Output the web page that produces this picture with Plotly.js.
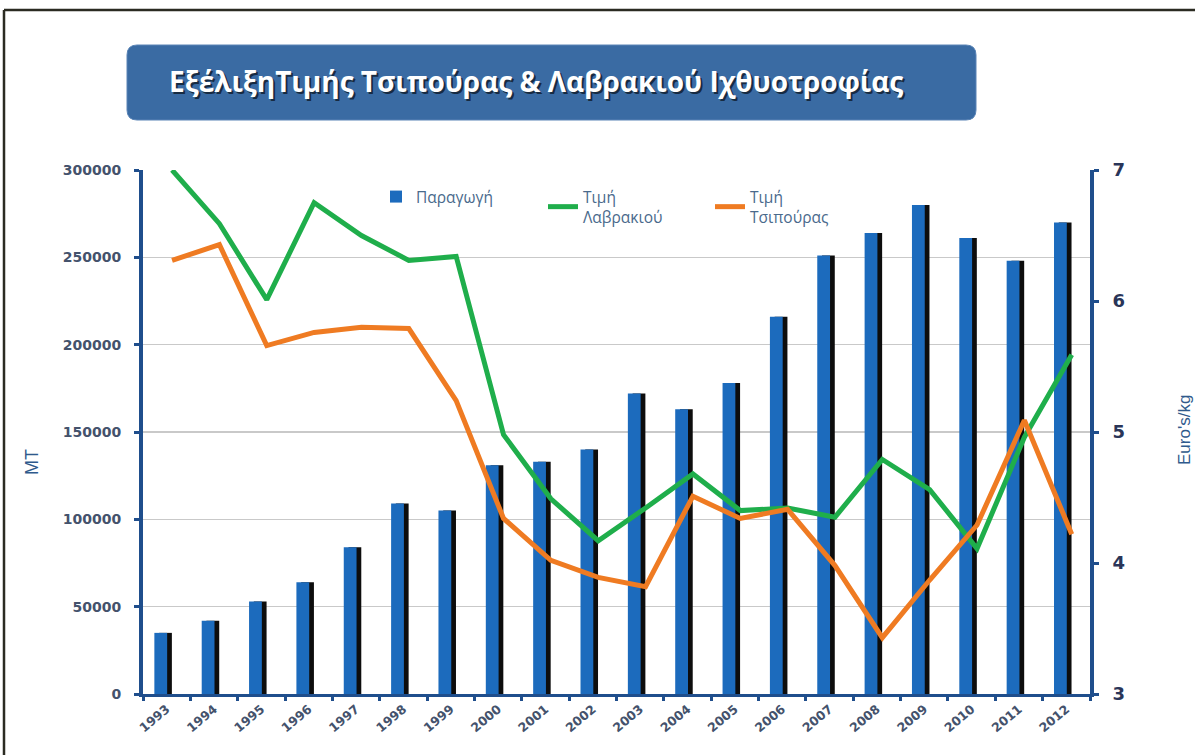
<!DOCTYPE html>
<html>
<head>
<meta charset="utf-8">
<script src="https://cdn.plot.ly/plotly-3.0.1.min.js"></script>
<style>
  html, body { margin: 0; padding: 0; background: #fff; }
  #chart { width: 1195px; height: 755px; }
</style>
</head>
<body>
<div id="chart"></div>
<script>
const years = ["1993", "1994", "1995", "1996", "1997", "1998", "1999", "2000", "2001", "2002",
  "2003", "2004", "2005", "2006", "2007", "2008", "2009", "2010", "2011", "2012"];

// Παραγωγή (MT)
const production = [35000, 42000, 53000, 64000, 84000, 109000, 105000, 131000, 133000, 140000,
  172000, 163000, 178000, 216000, 251000, 264000, 280000, 261000, 248000, 270000];

// Τιμή Λαβρακιού (Euro's/kg)
const priceSeaBass = [7.0, 6.59, 6.01, 6.75, 6.5, 6.31, 6.34, 4.98, 4.49, 4.17,
  4.42, 4.68, 4.4, 4.42, 4.35, 4.79, 4.56, 4.11, 4.96, 5.59];

// Τιμή Τσιπούρας (Euro's/kg)
const priceSeaBream = [6.31, 6.43, 5.66, 5.76, 5.8, 5.79, 5.24, 4.34, 4.02, 3.89,
  3.82, 4.51, 4.34, 4.41, 3.98, 3.43, 3.87, 4.29, 5.09, 4.22];

const W = 1195, H = 755;
const M = { l: 143, r: 105, t: 170, b: 61 };
const PW = W - M.l - M.r, PH = H - M.t - M.b;
// pixel -> paper helpers (layout only)
const px = (x) => (x - M.l) / PW;
const py = (y) => (H - M.b - y) / PH;

const axisBlue = "#1f4e8c";
const labelCol = "#44526c";

function roundRect(x0, y0, x1, y1, r) {
  const rx = r / PW, ry = r / PH;
  const a = px(x0), b = px(x1), top = py(y0), bot = py(y1);
  return `M ${a + rx},${top} L ${b - rx},${top} Q ${b},${top} ${b},${top - ry} ` +
    `L ${b},${bot + ry} Q ${b},${bot} ${b - rx},${bot} L ${a + rx},${bot} ` +
    `Q ${a},${bot} ${a},${bot + ry} L ${a},${top - ry} Q ${a},${top} ${a + rx},${top} Z`;
}

const traces = [
  {
    type: "bar", x: years, y: production, showlegend: false, hoverinfo: "skip",
    offset: -0.16, width: 0.27, marker: { color: "#0d0d0d" },
  },
  {
    type: "bar", x: years, y: production, name: "Παραγωγή",
    offset: -0.26, width: 0.27, marker: { color: "#1c6bbd" },
  },
  {
    type: "scatter", mode: "lines", x: years, y: priceSeaBass, name: "Τιμή<br>Λαβρακιού",
    xaxis: "x2", yaxis: "y2", line: { color: "#1fae4b", width: 5 },
  },
  {
    type: "scatter", mode: "lines", x: years, y: priceSeaBream, name: "Τιμή<br>Τσιπούρας",
    xaxis: "x2", yaxis: "y2", line: { color: "#ef7b22", width: 5 },
  },
];

const titleText = "ΕξέλιξηΤιμής Τσιπούρας & Λαβρακιού Ιχθυοτροφίας";
const titleFont = { family: "Open Sans", size: 28, weight: "bold" };

const layout = {
  width: W, height: H,
  margin: M,
  paper_bgcolor: "#fff", plot_bgcolor: "#fff",
  barmode: "overlay",
  showlegend: true,
  legend: {
    orientation: "h", x: px(376), y: py(180), xanchor: "left", yanchor: "top",
    font: { family: "Open Sans", size: 15.5, color: "#4a6a8c" },
    bgcolor: "rgba(0,0,0,0)", entrywidth: 122, entrywidthmode: "pixels",
  },
  xaxis: {
    type: "category", range: [-0.5, 19.5], tickson: "boundaries",
    ticks: "outside", ticklen: 4, tickwidth: 3, tickcolor: axisBlue,
    showline: true, linecolor: axisBlue, linewidth: 3,
    showgrid: false, tickangle: -40,
    tickfont: { family: "DejaVu Sans", size: 12.5, color: labelCol, weight: "bold" },
  },
  xaxis2: {
    type: "category", overlaying: "x", visible: false, range: [-0.614, 19.386],
  },
  yaxis: {
    range: [0, 300000], dtick: 50000, tickformat: "d",
    showline: true, linecolor: axisBlue, linewidth: 4,
    ticks: "outside", ticklen: 5, tickwidth: 3, tickcolor: axisBlue,
    showgrid: true, gridcolor: "#c9c9c9", gridwidth: 1.5, zeroline: false,
    ticklabelstandoff: 10,
    tickfont: { family: "DejaVu Sans", size: 14, color: labelCol, weight: "bold" },
  },
  yaxis2: {
    overlaying: "y", side: "right", range: [3, 7], dtick: 1,
    showline: true, linecolor: axisBlue, linewidth: 4,
    ticks: "outside", ticklen: 5, tickwidth: 3, tickcolor: axisBlue,
    showgrid: false, zeroline: false, ticklabelstandoff: 10,
    tickfont: { family: "DejaVu Sans", size: 18, color: "#2a3558", weight: "bold" },
  },
  shapes: [
    { type: "line", xref: "paper", yref: "paper", x0: px(4), x1: px(1200), y0: py(10), y1: py(10),
      line: { color: "#2b2b22", width: 2.5 } },
    { type: "line", xref: "paper", yref: "paper", x0: px(4), x1: px(4), y0: py(10), y1: py(760),
      line: { color: "#2b2b22", width: 2.5 } },
    { type: "path", xref: "paper", yref: "paper", path: roundRect(127, 45, 976, 120, 10),
      fillcolor: "#3a6ba3", line: { color: "#5a84b6", width: 1 } },
  ],
  annotations: [
    { xref: "paper", yref: "paper", x: px(536), y: py(81), xanchor: "center", yanchor: "middle",
      xshift: 2, yshift: -2, showarrow: false,
      text: titleText, font: { ...titleFont, color: "rgba(0,0,0,0.6)" } },
    { xref: "paper", yref: "paper", x: px(536), y: py(81), xanchor: "center", yanchor: "middle",
      showarrow: false, text: titleText, font: { ...titleFont, color: "#ffffff" } },
    { xref: "paper", yref: "paper", x: px(32), y: py(462), xanchor: "center", yanchor: "middle",
      showarrow: false, textangle: -90,
      text: "MT", font: { family: "Liberation Sans", size: 18, color: "#2f5a8c" } },
    { xref: "paper", yref: "paper", x: px(1184), y: py(430), xanchor: "center", yanchor: "middle",
      showarrow: false, textangle: -90,
      text: "Euro's/kg", font: { family: "Liberation Sans", size: 17, color: "#2f5a8c" } },
  ],
};

Plotly.newPlot("chart", traces, layout, { displayModeBar: false, staticPlot: true });
</script>
</body>
</html>
